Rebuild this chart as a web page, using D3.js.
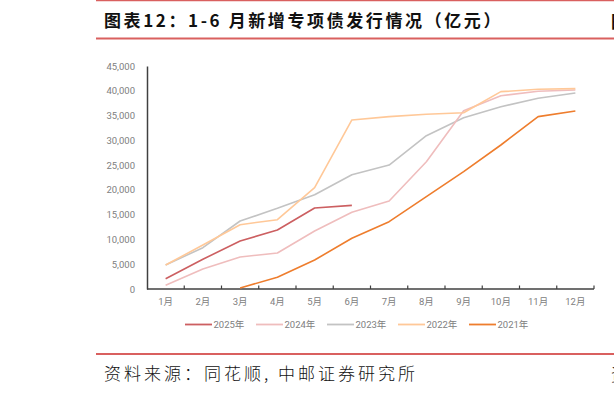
<!DOCTYPE html>
<html><head><meta charset="utf-8">
<script src="https://cdn.jsdelivr.net/npm/d3@7/dist/d3.min.js"></script>
<style>
html,body{margin:0;padding:0;background:#fff;}
svg{display:block;}
</style></head>
<body>
<svg id="c" width="614" height="393"></svg>
<script>
const months = ["1月","2月","3月","4月","5月","6月","7月","8月","9月","10月","11月","12月"];
const yTicks = [0,5000,10000,15000,20000,25000,30000,35000,40000,45000];
const seriesNames = ["2025年","2024年","2023年","2022年","2021年"];
const seriesColors = ["#CC5F61","#EFBDBD","#C3C3C3","#FFC898","#EE7D2D"];
const s2025 = [2080,6000,9690,11900,16340,16880,null,null,null,null,null,null];
const s2024 = [740,4040,6460,7260,11700,15480,17760,25690,35980,39010,39890,40160];
const s2023 = [4840,8340,13720,16280,19030,23070,25020,30940,34570,36790,38480,39550];
const s2022 = [4840,8880,12980,13990,20450,34110,34780,35250,35580,39820,40300,40430];
const s2021 = [null,null,200,2360,5850,10230,13580,18630,23670,29060,34780,35920];
const seriesValues = [s2025,s2024,s2023,s2022,s2021];

const svg = d3.select("#c");
const red = "#D9605F";

// header / footer rules
svg.append("line").attr("x1",96).attr("x2",614).attr("y1",0.5).attr("y2",0.5).attr("stroke",red).attr("stroke-width",1.5);
svg.append("line").attr("x1",96).attr("x2",614).attr("y1",38.5).attr("y2",38.5).attr("stroke",red).attr("stroke-width",2);
svg.append("line").attr("x1",96).attr("x2",614).attr("y1",354).attr("y2",354).attr("stroke",red).attr("stroke-width",2);

svg.append("text").attr("x",104).attr("y",27)
  .attr("font-family","'Noto Sans CJK SC'").attr("font-weight","bold").attr("font-size",17)
  .attr("letter-spacing",2.6).attr("fill","#111")
  .text("图表12：1-6 月新增专项债发行情况（亿元）");

svg.append("text").attr("x",104).attr("y",380)
  .attr("font-family","'Noto Sans CJK SC'").attr("font-weight","300").attr("font-size",17)
  .attr("letter-spacing",3.0).attr("fill","#111")
  .text("资料来源：同花顺, 中邮证券研究所");

// cut-off glyphs from the neighbouring column
svg.append("text").attr("x",611).attr("y",28).attr("font-family","'Noto Sans CJK SC'").attr("font-weight","bold").attr("font-size",17).attr("fill","#111").text("图");
svg.append("text").attr("x",611).attr("y",381).attr("font-family","'Noto Sans CJK SC'").attr("font-weight","300").attr("font-size",17).attr("fill","#111").text("资");

const x = d3.scaleBand().domain(months).range([147,594]);
const y = d3.scaleLinear().domain([0,45000]).range([289,66]);

const fontAx = "Roboto, 'Noto Sans CJK SC'";
// y axis labels
const yAx = svg.append("g").attr("transform","translate(147,0)")
  .call(d3.axisLeft(y).tickValues(yTicks).tickSize(0).tickPadding(12).tickFormat(d3.format(",")));
yAx.select(".domain").attr("stroke","#404040").attr("stroke-width",1.5);
yAx.selectAll("text").attr("font-family",fontAx).attr("font-size",9.5).attr("fill","#808080");

// x axis
const xAx = svg.append("g").attr("transform","translate(0,289)")
  .call(d3.axisBottom(x).tickSize(0).tickPadding(9));
xAx.select(".domain").remove();
xAx.selectAll("text").attr("font-family",fontAx).attr("font-size",9.5).attr("fill","#808080");
svg.append("line").attr("x1",147).attr("x2",594).attr("y1",289).attr("y2",289).attr("stroke","#404040").attr("stroke-width",1.5);
const bounds = months.map(m => x(m)).concat([x.range()[1]]);
svg.append("g").selectAll("line").data(bounds.slice(1)).join("line")
  .attr("x1",d=>d).attr("x2",d=>d).attr("y1",289).attr("y2",285.5)
  .attr("stroke","#404040").attr("stroke-width",1.2);

// lines
const line = d3.line()
  .defined(d => d.v !== null)
  .x(d => x(d.m) + x.bandwidth()/2)
  .y(d => y(d.v));
const order = [2,1,4,3,0];
order.forEach(i => {
  const data = months.map((m,j) => ({m, v: seriesValues[i][j]}));
  svg.append("path").datum(data).attr("d",line)
    .attr("fill","none").attr("stroke",seriesColors[i]).attr("stroke-width",1.6)
    .attr("stroke-linejoin","round");
});

// legend
const leg = svg.append("g");
seriesNames.forEach((n,i) => {
  const lx = 185 + i*71;
  leg.append("line").attr("x1",lx).attr("x2",lx+27).attr("y1",324.5).attr("y2",324.5)
    .attr("stroke",seriesColors[i]).attr("stroke-width",1.8);
  leg.append("text").attr("x",lx+28.5).attr("y",328).attr("font-family",fontAx)
    .attr("font-size",9.5).attr("fill","#808080").text(n);
});
</script>
</body></html>
